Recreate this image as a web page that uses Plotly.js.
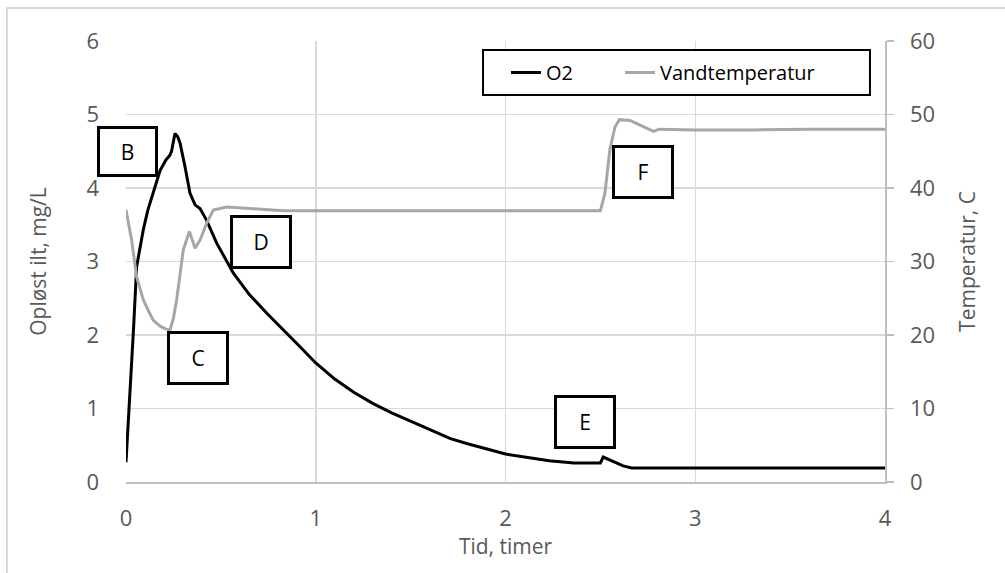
<!DOCTYPE html>
<html>
<head>
<meta charset="utf-8">
<script src="https://cdn.plot.ly/plotly-3.0.1.min.js"></script>
<style>html,body{margin:0;padding:0;background:#fff;}#chart{width:1005px;height:573px;}</style>
</head>
<body>
<div id="chart"></div>
<script>
// O2 (mg/L) vs time (hours)
const o2Time = [0, 0.021, 0.04, 0.056, 0.075, 0.091, 0.115, 0.144, 0.18, 0.21, 0.232, 0.24, 0.258, 0.272, 0.285, 0.311, 0.337, 0.364, 0.39, 0.425, 0.478, 0.566, 0.65, 0.741, 0.83, 0.917, 1.0, 1.1, 1.2, 1.3, 1.4, 1.5, 1.6, 1.71, 1.8, 1.9, 2.0, 2.1, 2.23, 2.36, 2.5, 2.515, 2.55, 2.62, 2.665, 3.0, 3.5, 4.0];
const o2Values = [0.27, 1.2, 2.1, 2.93, 3.2, 3.43, 3.7, 3.93, 4.24, 4.38, 4.45, 4.5, 4.74, 4.7, 4.61, 4.29, 3.93, 3.77, 3.72, 3.56, 3.25, 2.84, 2.55, 2.30, 2.06, 1.84, 1.62, 1.40, 1.22, 1.07, 0.94, 0.83, 0.71, 0.59, 0.52, 0.45, 0.38, 0.34, 0.29, 0.26, 0.26, 0.34, 0.30, 0.22, 0.19, 0.19, 0.19, 0.19];
// Water temperature (C) vs time (hours)
const tempTime = [0, 0.03, 0.056, 0.091, 0.12, 0.144, 0.18, 0.21, 0.232, 0.25, 0.267, 0.285, 0.302, 0.334, 0.364, 0.39, 0.425, 0.46, 0.53, 0.653, 0.83, 1.0, 1.5, 2.0, 2.5, 2.524, 2.55, 2.577, 2.6, 2.656, 2.7, 2.744, 2.78, 2.81, 3.0, 3.3, 3.6, 4.0];
const tempValues = [37.0, 32.9, 27.9, 24.8, 23.2, 22.0, 21.2, 20.8, 20.7, 22.3, 24.8, 28.5, 31.6, 34.1, 31.8, 32.9, 35.2, 37.0, 37.4, 37.2, 36.9, 36.9, 36.9, 36.9, 36.9, 39.3, 45.2, 48.3, 49.3, 49.2, 48.7, 48.1, 47.7, 48.0, 47.9, 47.9, 48.0, 48.0];
const seriesNames = ['O2', 'Vandtemperatur'];
const boxLabels = ['B', 'C', 'D', 'E', 'F'];
const boxTime = [0.008, 0.381, 0.71, 2.419, 2.726];
const boxO2 = [4.49, 1.69, 3.26, 0.816, 4.22];

const FONT = 'Open Sans, Noto Sans, sans-serif';
const GREY = '#595959';

const traces = [
  {x: o2Time, y: o2Values, name: seriesNames[0], type: 'scatter', mode: 'lines',
   line: {color: '#000000', width: 3}, yaxis: 'y', legend: 'legend'},
  {x: tempTime, y: tempValues, name: seriesNames[1], type: 'scatter', mode: 'lines',
   line: {color: '#a6a6a6', width: 3}, yaxis: 'y2', legend: 'legend2'}
];

const annotations = boxLabels.map((t, i) => ({
  x: boxTime[i], y: boxO2[i], xref: 'x', yref: 'y', text: t, showarrow: false,
  xanchor: 'center', yanchor: 'middle', width: i === 0 ? 55 : 56, height: i === 0 ? 45 : 48,
  bgcolor: '#ffffff', bordercolor: '#000000', borderwidth: 3, borderpad: 0,
  font: {family: FONT, size: 21, color: '#000000'}
}));

const legendBase = {orientation: 'h', y: 0.9286, xanchor: 'left', yanchor: 'middle',
  borderwidth: 0, bgcolor: 'rgba(0,0,0,0)', font: {family: FONT, size: 20, color: '#000000'}};

const layout = {
  width: 1005, height: 573,
  margin: {l: 126, r: 120, t: 41, b: 91},
  paper_bgcolor: '#ffffff', plot_bgcolor: '#ffffff',
  font: {family: FONT, color: GREY},
  showlegend: true,
  legend: Object.assign({}, legendBase, {x: 0.5007}),
  legend2: Object.assign({}, legendBase, {x: 0.6509}),
  xaxis: {range: [0, 4], dtick: 1, tick0: 0, showgrid: true, gridcolor: '#d9d9d9', gridwidth: 1.5,
          zeroline: false, showline: true, linecolor: '#bfbfbf', linewidth: 1.5, ticks: '',
          tickfont: {size: 22, color: GREY}, ticklabelstandoff: 16,
          title: {text: 'Tid, timer', font: {size: 21, color: GREY}, standoff: 7}},
  yaxis: {range: [0, 6], dtick: 1, tick0: 0, showgrid: true, gridcolor: '#d9d9d9', gridwidth: 1.5,
          zeroline: false, showline: false, ticks: '',
          tickfont: {size: 22, color: GREY}, ticklabelstandoff: 26,
          title: {text: 'Opløst ilt, mg/L', font: {size: 21, color: GREY}, standoff: 34}},
  yaxis2: {range: [0, 60], dtick: 10, tick0: 0, overlaying: 'y', side: 'right', showgrid: false,
           zeroline: false, showline: true, linecolor: '#bfbfbf', linewidth: 1.5,
           ticks: 'outside', ticklen: 7, tickcolor: '#bfbfbf', tickwidth: 1.5,
           tickfont: {size: 22, color: GREY}, ticklabelstandoff: 12,
           title: {text: 'Temperatur, C', font: {size: 21, color: GREY}, standoff: 26}},
  annotations: annotations,
  shapes: [
    {type: 'rect', xref: 'paper', yref: 'paper', x0: -0.1568, x1: 1.2, y0: -0.3, y1: 1.0748,
     line: {color: '#d9d9d9', width: 2}, fillcolor: 'rgba(0,0,0,0)', layer: 'below'},
    {type: 'rect', xref: 'paper', yref: 'paper', x0: 0.4704, x1: 0.9802, y0: 0.8776, y1: 0.9796,
     line: {color: '#000000', width: 2}, fillcolor: '#ffffff', layer: 'above'}
  ]
};

Plotly.newPlot('chart', traces, layout, {displayModeBar: false, staticPlot: true});
</script>
</body>
</html>
